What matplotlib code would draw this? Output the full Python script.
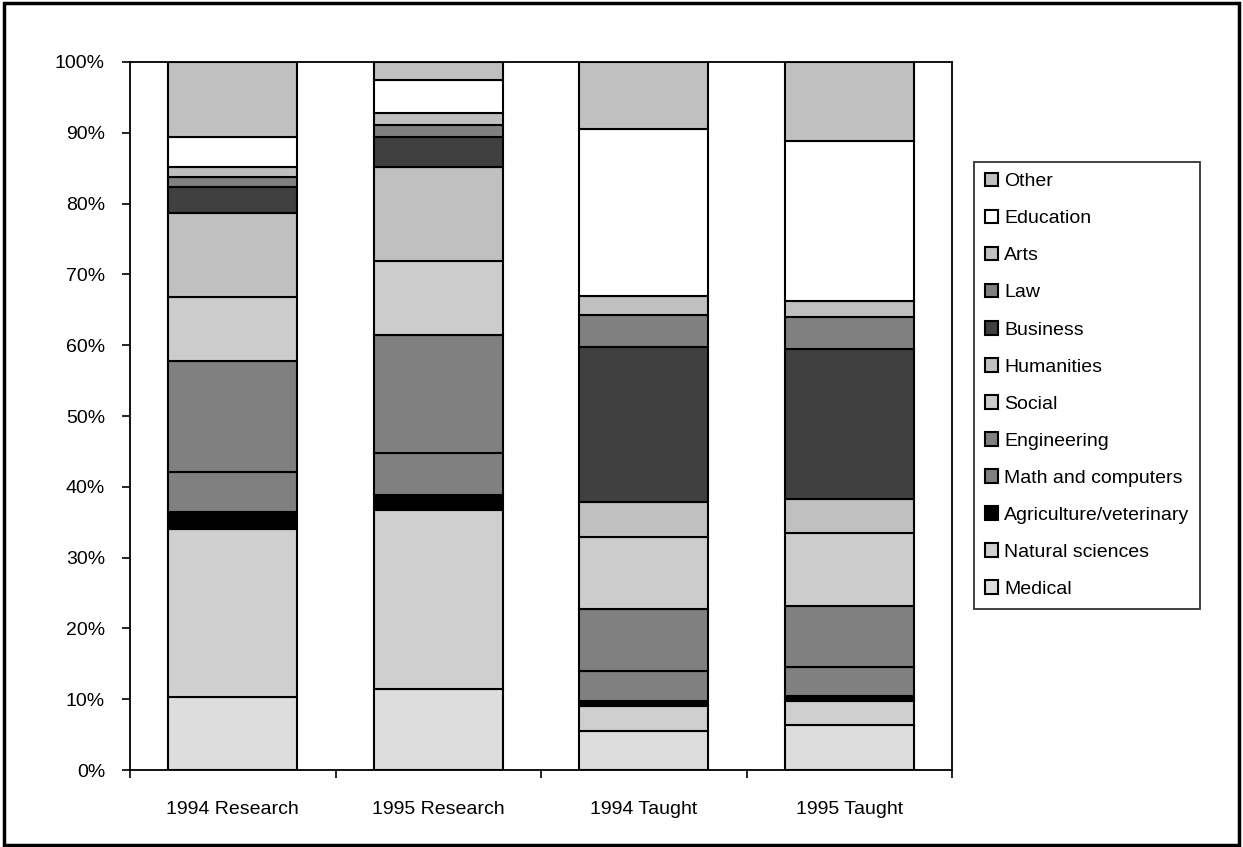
import numpy as np
import matplotlib.pyplot as plt
from matplotlib.patches import Rectangle

plt.rcParams['font.family'] = ['Liberation Sans', 'DejaVu Sans']

groups = ['1994 Research', '1995 Research', '1994 Taught', '1995 Taught']
fields = ['Medical', 'Natural sciences', 'Agriculture/veterinary', 'Math and computers',
          'Engineering', 'Social', 'Humanities', 'Business', 'Law', 'Arts',
          'Education', 'Other']
colors = ['#dddddd', '#cfcfcf', '#000000', '#808080', '#808080', '#cccccc',
          '#c0c0c0', '#404040', '#808080', '#c0c0c0', '#ffffff', '#c0c0c0']

# percent share of each field, per group
medical = [10.3, 11.5, 5.5, 6.4]
natural = [23.7, 25.2, 3.6, 3.3]
agri = [2.4, 2.1, 0.7, 0.7]
math_comp = [5.7, 6.0, 4.2, 4.1]
engineering = [15.7, 16.6, 8.7, 8.6]
social = [9.0, 10.5, 10.2, 10.4]
humanities = [11.9, 13.3, 4.9, 4.8]
business = [3.6, 4.2, 21.9, 21.2]
law = [1.5, 1.7, 4.6, 4.5]
arts = [1.4, 1.7, 2.6, 2.2]
education = [4.2, 4.6, 23.7, 22.6]
other = [10.6, 2.6, 9.4, 11.2]

series = [medical, natural, agri, math_comp, engineering, social, humanities,
          business, law, arts, education, other]

fig = plt.figure(figsize=(12.43, 8.47), dpi=100)
ax = fig.add_axes([130 / 1243, 77 / 847, 822 / 1243, 708 / 847])

x = np.arange(len(groups))
bottom = np.zeros(len(groups))
handles = []
for name, vals, c in zip(fields, series, colors):
    v = np.array(vals)
    b = ax.bar(x, v, 0.628, bottom=bottom, color=c, edgecolor='black',
               linewidth=1.5, label=name)
    handles.append(b)
    bottom += v

ax.set_xlim(-0.5, 3.5)
ax.set_ylim(0, 100)
ax.set_yticks(np.arange(0, 101, 10))
ax.set_yticklabels([f'{t}%' for t in range(0, 101, 10)], fontsize=14)
ax.set_xticks(np.arange(-0.5, 3.6, 1))
ax.set_xticklabels([])
ax.set_xticks(x, minor=True)
ax.set_xticklabels(groups, minor=True, fontsize=14)
ax.tick_params(axis='x', which='minor', length=0, pad=22)
ax.tick_params(axis='both', which='major', length=6, width=1.2, direction='out', pad=12)
for s in ax.spines.values():
    s.set_linewidth(1.3)

leg = fig.legend(handles[::-1], fields[::-1], loc='upper left',
                 bbox_to_anchor=(974 / 1243, 1 - 162 / 847), fontsize=14,
                 frameon=True, fancybox=False, handlelength=0.7, handleheight=0.7,
                 handletextpad=0.3, labelspacing=1.0, borderpad=0.55,
                 borderaxespad=0)
leg.get_frame().set_edgecolor('black')
leg.get_frame().set_linewidth(1.3)

fig.patches.append(Rectangle((0.003, 0.002), 0.994, 0.995, transform=fig.transFigure,
                             fill=False, edgecolor='black', linewidth=2.5))

fig.savefig('out.png', dpi=100)
